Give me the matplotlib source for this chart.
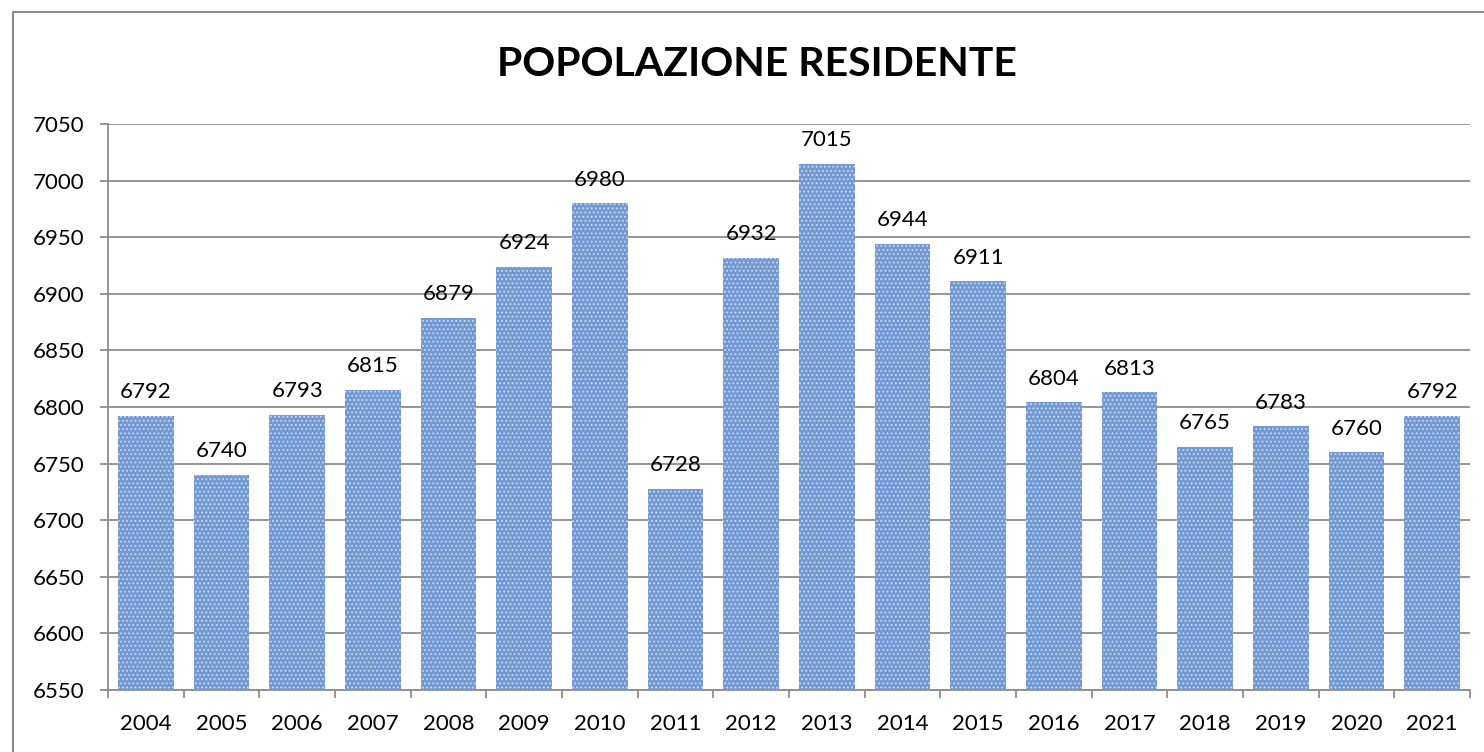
import matplotlib
matplotlib.use("Agg")
import matplotlib.pyplot as plt
from matplotlib.patches import Rectangle

years = ["2004", "2005", "2006", "2007", "2008", "2009", "2010", "2011", "2012",
         "2013", "2014", "2015", "2016", "2017", "2018", "2019", "2020", "2021"]
values = [6792, 6740, 6793, 6815, 6879, 6924, 6980, 6728, 6932,
          7015, 6944, 6911, 6804, 6813, 6765, 6783, 6760, 6792]
yticks = list(range(6550, 7051, 50))
title = "POPOLAZIONE RESIDENTE"

plt.rcParams['font.family'] = ['Lato', 'DejaVu Sans']
plt.rcParams['hatch.linewidth'] = 0.8

W, H = 1484, 752
fig = plt.figure(figsize=(W / 100, H / 100), dpi=100)
fig.patches.append(Rectangle((13 / W, -0.1), 1.2, 1 - 12 / H + 0.1, transform=fig.transFigure,
                             fill=False, edgecolor='#8c8c8c', linewidth=1.5))
ax = fig.add_axes([108 / W, 1 - 690 / H, (1470 - 108) / W, (690 - 124) / H])

x = list(range(len(years)))
bars = ax.bar(x, [v - 6550 for v in values], bottom=6550, width=0.74,
              color='#7399d3', edgecolor='#c9d8ef', linewidth=0, hatch='....', zorder=3)
for xi, v in zip(x, values):
    ax.text(xi, v + 12, str(v), ha='center', va='bottom', fontsize=16, color='black', zorder=4)

ax.set_ylim(6550, 7050)
ax.set_xlim(-0.5, len(years) - 0.5)
ax.set_yticks(yticks)
ax.set_yticklabels([str(t) for t in yticks], fontsize=16)
ax.yaxis.grid(True, color='#8c8c8c', linewidth=1.3, zorder=0)
ax.set_axisbelow(True)
ax.set_xticks(x)
ax.set_xticklabels(years, fontsize=16)
ax.tick_params(axis='x', length=0, pad=17)
ax.set_xticks([i - 0.5 for i in range(len(years) + 1)], minor=True)
ax.tick_params(axis='x', which='minor', length=6, color='#8c8c8c', width=1.3)
ax.tick_params(axis='y', length=6, color='#8c8c8c', width=1.3, pad=11)
for s in ['top', 'right']:
    ax.spines[s].set_visible(False)
for s in ['left', 'bottom']:
    ax.spines[s].set_color('#8c8c8c')
    ax.spines[s].set_linewidth(1.3)

fig.text(757 / W, 1 - 65 / H, title, ha='center', va='center', fontsize=29.5, fontweight='bold')

fig.savefig('out.png', dpi=100)
